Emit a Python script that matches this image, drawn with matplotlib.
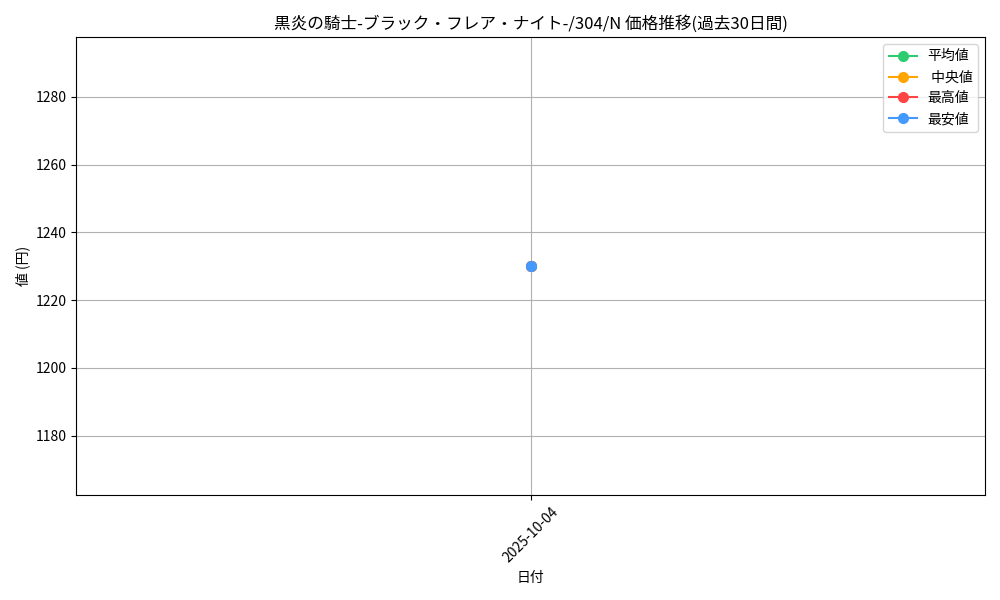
import matplotlib
matplotlib.use("Agg")
import matplotlib.pyplot as plt

plt.rcParams['font.family'] = ['Noto Sans CJK JP', 'DejaVu Sans']

dates = ["2025-10-04"]
avg_prices = [1230]
median_prices = [1230]
max_prices = [1230]
min_prices = [1230]

card_name = "黒炎の騎士-ブラック・フレア・ナイト-/304/N"

fig, ax = plt.subplots(figsize=(10, 6), dpi=100)
ax.plot(dates, avg_prices, marker='o', markersize=7, color='#2ecc71', label='平均値')
ax.plot(dates, median_prices, marker='o', markersize=7, color='#ffa500', label=' 中央値')
ax.plot(dates, max_prices, marker='o', markersize=7, color='#ff4444', label='最高値')
ax.plot(dates, min_prices, marker='o', markersize=7, color='#4499ff', label='最安値')

ax.set_title(card_name + " 価格推移(過去30日間)")
ax.set_xlabel("日付")
ax.set_ylabel("値 (円)")
ax.grid(True)
ax.legend(loc='upper right')
plt.xticks(rotation=45)
plt.tight_layout()
plt.savefig("out.png")
